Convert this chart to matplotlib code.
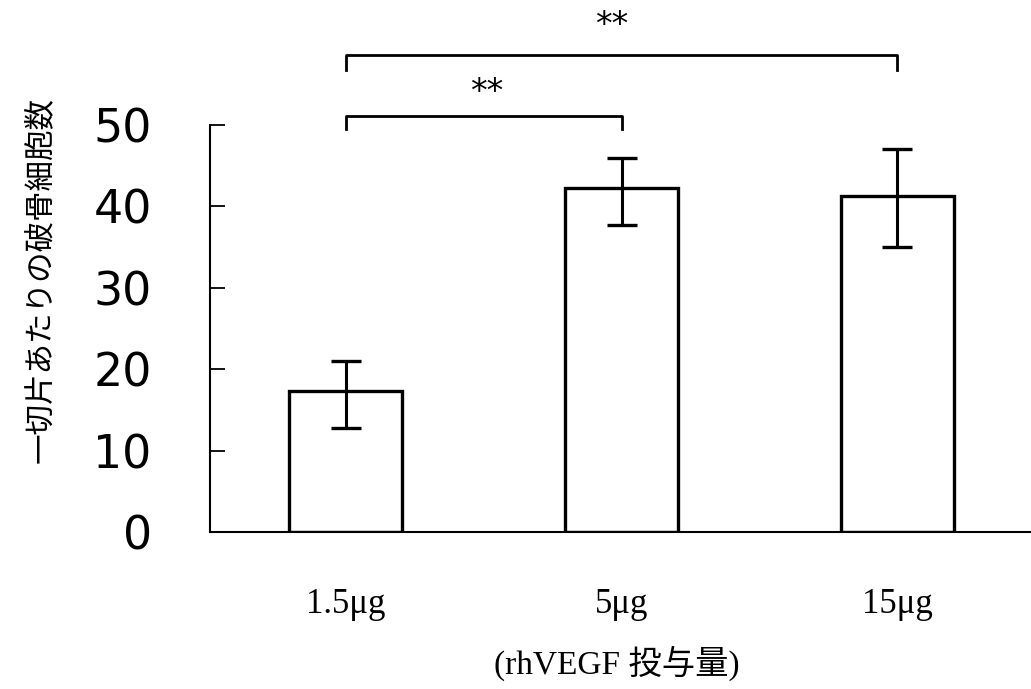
import matplotlib
matplotlib.use("Agg")
import matplotlib.pyplot as plt
import numpy as np

# 用量ごとの破骨細胞数
doses = ['1.5μg', '5μg', '15μg']
means = [17.3, 42.3, 41.3]
err_low = [4.5, 4.6, 6.3]
err_high = [3.7, 3.6, 5.7]
y_ticks = [0, 10, 20, 30, 40, 50]

# 有意差 (比較するバーの番号, 記号)
sig_pairs = [(0, 1), (0, 2)]
sig_marks = ['**', '**']

fig = plt.figure(figsize=(10.31, 6.89), dpi=100)
ax = fig.add_axes([210 / 1031, 1 - 532 / 689, 1 - 210 / 1031, 407 / 689])

x = np.arange(len(doses))
ax.bar(x, means, width=0.41, color='white', edgecolor='black', linewidth=2.4,
       yerr=[err_low, err_high], capsize=11,
       error_kw=dict(elinewidth=2.2, capthick=2.4, ecolor='black'))

ax.set_xlim(-0.493, 2.485)
ax.set_ylim(0, 50)
ax.set_yticks(y_ticks)
ax.set_xticks(x)
ax.set_xticklabels(doses, family=['Liberation Serif', 'DejaVu Serif'], fontsize=25)
ax.set_yticklabels([str(t) for t in y_ticks], family='DejaVu Sans', fontsize=33)

ax.tick_params(axis='y', direction='in', length=11, width=1.3, pad=42)
ax.tick_params(axis='x', length=0, pad=40)

for s in ['top', 'right']:
    ax.spines[s].set_visible(False)
ax.spines['left'].set_linewidth(1.5)
ax.spines['bottom'].set_linewidth(1.5)

# 有意差のブラケット
bracket_y = [51.1, 58.6]
leg_y = [49.5, 56.7]
star_pos = [(0.51, 54.0), (0.965, 62.2)]
for (a, b), y, yl, (sx, sy), m in zip(sig_pairs, bracket_y, leg_y, star_pos, sig_marks):
    ax.plot([a, a, b, b], [yl, y, y, yl], color='black', lw=2, clip_on=False)
    ax.text(sx, sy, m, ha='center', va='center', fontsize=24, clip_on=False)

fig.text(40 / 1031, 1 - 280 / 689, '一切片あたりの破骨細胞数', rotation=90,
         ha='center', va='center', fontsize=22, family=['Noto Sans CJK JP', 'DejaVu Sans'])
fig.text(617 / 1031, 1 - 663 / 689, '(rhVEGF 投与量)', ha='center', va='center',
         fontsize=24, family=['Liberation Serif', 'Noto Sans CJK JP'])

fig.savefig('out.png', dpi=100)
